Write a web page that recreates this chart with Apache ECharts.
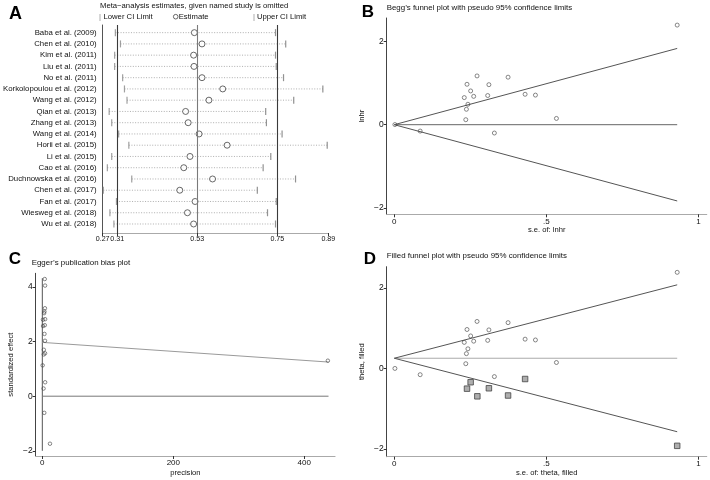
<!DOCTYPE html>
<html>
<head>
<meta charset="utf-8">
<script src="https://cdn.jsdelivr.net/npm/echarts@6/dist/echarts.min.js"></script>
<style>
html,body{margin:0;padding:0;background:#fff;}
#main{width:710px;height:480px;}
</style>
</head>
<body>
<div id="main"></div>
<script>
// ---------- Panel A: leave-one-out sensitivity ----------
const studies = ["Baba et al. (2009)","Chen et al. (2010)","Kim et al. (2011)","Liu et al. (2011)","No et al. (2011)",
  "Korkolopoulou et al. (2012)","Wang et al. (2012)","Qian et al. (2013)","Zhang et al. (2013)","Wang et al. (2014)",
  "Horii et al. (2015)","Li et al. (2015)","Cao et al. (2016)","Duchnowska et al. (2016)","Chen et al. (2017)",
  "Fan et al. (2017)","Wiesweg et al. (2018)","Wu et al. (2018)"];
const infEst   = [0.522,0.543,0.520,0.521,0.543,0.600,0.562,0.498,0.505,0.535,0.612,0.510,0.493,0.572,0.482,0.524,0.503,0.520];
const infLower = [0.305,0.319,0.303,0.303,0.325,0.330,0.337,0.288,0.295,0.314,0.342,0.295,0.283,0.350,0.272,0.308,0.290,0.301];
const infUpper = [0.745,0.773,0.745,0.747,0.767,0.875,0.795,0.718,0.720,0.763,0.887,0.732,0.711,0.800,0.695,0.747,0.723,0.745];
const overallCI = [0.31, 0.53, 0.75];
const ticksA = [0.27, 0.31, 0.53, 0.75, 0.89];

// ---------- Panel B / D: funnel plots ----------
const seObs   = [0.002,0.085,0.230,0.239,0.251,0.261,0.242,0.237,0.235,0.272,0.307,0.311,0.329,0.374,0.430,0.464,0.533,0.930];
const lnhrObs = [0.003,-0.153,0.65,0.97,0.81,0.68,0.49,0.37,0.12,1.17,0.70,0.96,-0.20,1.14,0.73,0.71,0.15,2.39];
const seFilled    = [0.239,0.251,0.273,0.311,0.374,0.430,0.930];
const thetaFilled = [-0.50,-0.34,-0.69,-0.49,-0.67,-0.26,-1.92];
const funnelB = {center:[[0,0],[0.93,0]], upper:[[0,0],[0.93,1.83]], lower:[[0,0],[0.93,-1.83]]};
const funnelD = {center:[[0,0.256],[0.93,0.256]], upper:[[0,0.256],[0.93,2.08]], lower:[[0,0.256],[0.93,-1.57]]};
const ticksSE = [0, 0.5, 1];
const ticksFunnelY = [-2, 0, 2];

// ---------- Panel C: Egger ----------
const eggerPrecision = [3.7,4.2,4.0,3.2,2.7,4.3,1.0,3.8,1.1,3.3,4.1,2.3,4.2,2.2,0.5,4.3,1.9,3.0,11.7,436];
const eggerEffect    = [4.29,4.05,3.22,3.10,3.04,2.82,2.80,2.60,2.57,2.28,2.03,1.70,1.57,1.53,1.13,0.51,0.28,-0.61,-1.74,1.30];
const eggerRegLine  = [[0,1.97],[437,1.25]];
const eggerZeroLine = [[0,0],[437,0]];
const eggerCILine   = [[0,-2.0],[0,4.32]];
const ticksCx = [0, 200, 400];
const ticksCy = [-2, 0, 2, 4];

const FONT = 'Liberation Sans, Arial, sans-serif';
const TXT = '#111';
const fmtNum = v => (v < 0 ? '\u2212' + Math.abs(v) : String(v));
const fmtSE = v => (v === 0.5 ? '.5' : String(v));

function xAx(grid, min, max, ticks, fmt, name, gap, fs) {
  return {
    type:'value', gridIndex:grid, min:min, max:max, name:name, nameLocation:'middle', nameGap:gap,
    nameTextStyle:{fontFamily:FONT, fontSize:7.6, color:TXT},
    axisLine:{show:true, onZero:false, lineStyle:{color:'#aaa', width:1.2}},
    axisTick:{show:true, length:3, customValues:ticks, lineStyle:{color:'#333'}},
    axisLabel:{show:true, margin:3, customValues:ticks, formatter:fmt, fontFamily:FONT, fontSize:fs||8, color:TXT,
      showMinLabel:true, showMaxLabel:true, hideOverlap:false},
    splitLine:{show:false}
  };
}
function yAx(grid, min, max, ticks, fmt, name, gap) {
  return {
    type:'value', gridIndex:grid, min:min, max:max, name:name, nameLocation:'middle', nameGap:gap,
    nameTextStyle:{fontFamily:FONT, fontSize:7.6, color:TXT},
    axisLine:{show:true, onZero:false, lineStyle:{color:'#444', width:1}},
    axisTick:{show:true, length:3, customValues:ticks, lineStyle:{color:'#333'}},
    axisLabel:{show:true, margin:3, customValues:ticks, formatter:fmt, fontFamily:FONT, fontSize:8.5, color:TXT,
      showMinLabel:true, showMaxLabel:true, hideOverlap:false},
    splitLine:{show:false}
  };
}
function seg(xi, yi, data, color, width) {
  return {type:'line', xAxisIndex:xi, yAxisIndex:yi, data:data, showSymbol:false, symbol:'none', silent:true,
    lineStyle:{color:color, width:width||1}, z:2};
}
function hollow(xi, yi, data, size, color) {
  return {type:'scatter', xAxisIndex:xi, yAxisIndex:yi, data:data, symbol:'circle', symbolSize:size, silent:true,
    itemStyle:{color:'rgba(255,255,255,0)', borderColor:color||'#444', borderWidth:0.8}, z:3};
}

const obsPts = seObs.map((s,i)=>[s, lnhrObs[i]]);
const T = (x, y, text, size, opts) => Object.assign({type:'text', x:x, y:y, style:Object.assign({
  text:text, font:size+'px '+FONT, fill:TXT, align:'left', verticalAlign:'middle', textAlign:'left', textVerticalAlign:'middle'}, opts||{})});

const option = {
  animation:false,
  backgroundColor:'#fff',
  grid:[
    {left:99, top:25, width:229.3, height:208},
    {left:386.7, top:18, width:320, height:196.3},
    {left:35.7, top:273.3, width:299.3, height:182.7},
    {left:386.7, top:266.7, width:320, height:190}
  ],
  xAxis:[
    xAx(0, 0.27, 0.89, ticksA, v=>v.toFixed(2), '', 0, 7.1),
    xAx(1, -0.025, 1.027, ticksSE, fmtSE, 's.e. of: lnhr', 12),
    xAx(2, -10.1, 446.9, ticksCx, fmtNum, 'precision', 13),
    xAx(3, -0.025, 1.027, ticksSE, fmtSE, 's.e. of: theta, filled', 12)
  ],
  yAxis:[
    {
      type:'value', gridIndex:0, inverse:true, min:-0.68, max:17.8,
      axisLine:{show:true, lineStyle:{color:'#555', width:1}},
      axisTick:{show:false},
      axisLabel:{show:true, margin:6, customValues:studies.map((s,i)=>i), formatter:v=>studies[Math.round(v)],
        fontFamily:FONT, fontSize:7.8, color:TXT, hideOverlap:false},
      splitLine:{show:false}
    },
    yAx(1, -2.15, 2.56, ticksFunnelY, fmtNum, 'lnhr', 21),
    yAx(2, -2.19, 4.5, ticksCy, fmtNum, 'standardized effect', 21),
    yAx(3, -2.19, 2.53, ticksFunnelY, fmtNum, 'theta, filled', 21)
  ],
  series:[
    // Panel A
    {
      type:'custom', xAxisIndex:0, yAxisIndex:0, silent:true, z:1,
      data: studies.map((s,i)=>[infLower[i], infUpper[i], i]),
      encode:{x:[0,1], y:2},
      renderItem:(params, api)=>{
        const a = api.coord([api.value(0), api.value(2)]);
        const b = api.coord([api.value(1), api.value(2)]);
        return {type:'line', shape:{x1:a[0], y1:a[1], x2:b[0], y2:b[1]},
          style:{stroke:'#9a9a9a', lineWidth:0.8, lineDash:[1,1.6]}};
      }
    },
    {
      type:'line', xAxisIndex:0, yAxisIndex:0, data:[], silent:true,
      markLine:{silent:true, symbol:'none', label:{show:false},
        data: overallCI.map((v,i)=>({xAxis:v, lineStyle:{color: i===1 ? '#7a7a7a' : '#3a3a3a', width:1.1, type:'solid'}}))}
    },
    {type:'scatter', xAxisIndex:0, yAxisIndex:0, silent:true, z:3, symbol:'rect', symbolSize:[1.2,7],
      data: infLower.map((v,i)=>[v,i]), itemStyle:{color:'#888'}},
    {type:'scatter', xAxisIndex:0, yAxisIndex:0, silent:true, z:3, symbol:'rect', symbolSize:[1.2,7],
      data: infUpper.map((v,i)=>[v,i]), itemStyle:{color:'#777'}},
    {type:'scatter', xAxisIndex:0, yAxisIndex:0, silent:true, z:4, symbol:'circle', symbolSize:6,
      data: infEst.map((v,i)=>[v,i]), itemStyle:{color:'#fff', borderColor:'#444', borderWidth:1}},
    // Panel B
    seg(1,1,funnelB.center,'#666',1),
    seg(1,1,funnelB.upper,'#555',1),
    seg(1,1,funnelB.lower,'#555',1),
    hollow(1,1,obsPts,4,'#444'),
    // Panel C
    seg(2,2,eggerCILine,'#555',1),
    seg(2,2,eggerZeroLine,'#777',1),
    seg(2,2,eggerRegLine,'#9a9a9a',1),
    hollow(2,2,eggerPrecision.map((p,i)=>[p, eggerEffect[i]]),3.5,'#444'),
    // Panel D
    seg(3,3,funnelD.center,'#aaa',1),
    seg(3,3,funnelD.upper,'#555',1),
    seg(3,3,funnelD.lower,'#555',1),
    hollow(3,3,obsPts,4,'#444'),
    {type:'scatter', xAxisIndex:3, yAxisIndex:3, silent:true, z:4, symbol:'rect', symbolSize:5.5,
      data: seFilled.map((s,i)=>[s, thetaFilled[i]]), itemStyle:{color:'#9a9a9a', borderColor:'#444', borderWidth:1}}
  ],
  graphic:[
    T(15.5, 14, 'A', 18, {font:'bold 18px '+FONT, fill:'#000', align:'center', textAlign:'center'}),
    T(368, 12.5, 'B', 17, {font:'bold 17px '+FONT, fill:'#000', align:'center', textAlign:'center'}),
    T(15, 259, 'C', 17, {font:'bold 17px '+FONT, fill:'#000', align:'center', textAlign:'center'}),
    T(370, 259, 'D', 17, {font:'bold 17px '+FONT, fill:'#000', align:'center', textAlign:'center'}),
    T(100, 5.5, 'Meta\u2212analysis estimates, given named study is omitted', 7.7),
    T(100, 16.7, '|', 7.7, {fill:'#888', align:'center', textAlign:'center'}),
    T(103.5, 16.7, 'Lower CI Limit', 7.7),
    {type:'circle', shape:{cx:175.7, cy:16.7, r:2.3}, style:{fill:'#fff', stroke:'#444', lineWidth:0.8}},
    T(178.7, 16.7, 'Estimate', 7.7),
    T(254, 16.7, '|', 7.7, {fill:'#888', align:'center', textAlign:'center'}),
    T(257, 16.7, 'Upper CI Limit', 7.7),
    T(386.7, 8.3, 'Begg\u2019s funnel plot with pseudo 95% confidence limits', 7.9),
    T(31.7, 263, 'Egger\u2019s publication bias plot', 7.9),
    T(386.7, 256, 'Filled funnel plot with pseudo 95% confidence limits', 7.9)
  ]
};

const chart = echarts.init(document.getElementById('main'), null, {renderer:'canvas'});
chart.setOption(option);
</script>
</body>
</html>
